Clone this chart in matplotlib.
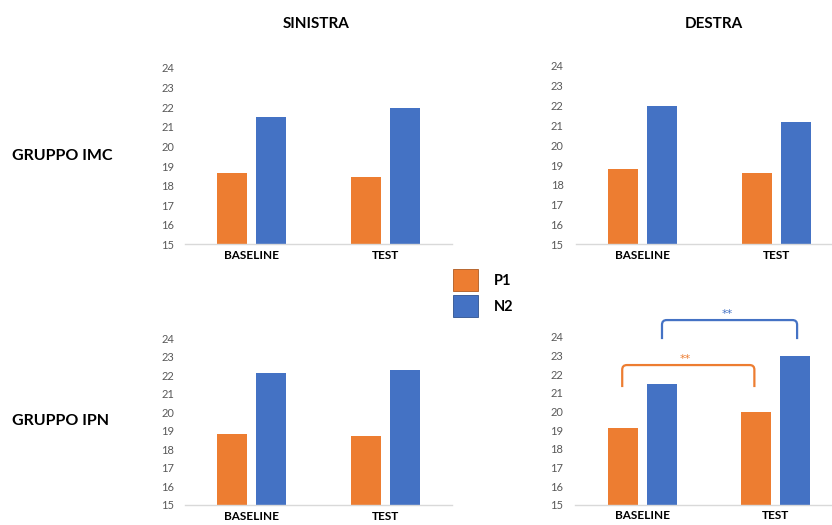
import matplotlib
matplotlib.use("Agg")
import matplotlib.pyplot as plt
from matplotlib.patches import Patch
from matplotlib.path import Path
from matplotlib.patches import PathPatch

plt.rcParams['font.family'] = ['Lato', 'DejaVu Sans']

# data
categories = ['BASELINE', 'TEST']
p1_imc_sx = [18.64, 18.45]
n2_imc_sx = [21.50, 21.95]
p1_imc_dx = [18.80, 18.60]
n2_imc_dx = [22.00, 21.15]
p1_ipn_sx = [18.85, 18.70]
n2_ipn_sx = [22.15, 22.30]
p1_ipn_dx = [19.10, 19.95]
n2_ipn_dx = [21.45, 22.95]
y_ticks = list(range(15, 25))

col_titles = ['SINISTRA', 'DESTRA']
row_titles = ['GRUPPO IMC', 'GRUPPO IPN']
series_names = ['P1', 'N2']

orange = '#ED7D31'
blue = '#4472C4'
tick_grey = '#595959'

fig = plt.figure(figsize=(8.32, 5.25), dpi=100)
fig.patch.set_facecolor('white')

# axes rects in figure fractions (left, bottom, width, height)
rects = {
    (0, 0): [0.2224, 0.5343, 0.3209, 0.3362],
    (0, 1): [0.6923, 0.5347, 0.3209, 0.3396],
    (1, 0): [0.2224, 0.0381, 0.3209, 0.3175],
    (1, 1): [0.6917, 0.0387, 0.3209, 0.3200],
}
panels = {
    (0, 0): (p1_imc_sx, n2_imc_sx),
    (0, 1): (p1_imc_dx, n2_imc_dx),
    (1, 0): (p1_ipn_sx, n2_ipn_sx),
    (1, 1): (p1_ipn_dx, n2_ipn_dx),
}

xs = list(range(len(categories)))
bw = 0.225
off = 0.145
axes = {}
for key, rect in rects.items():
    ax = fig.add_axes(rect)
    p1, n2 = panels[key]
    ax.bar([x - off for x in xs], p1, width=bw, color=orange)
    ax.bar([x + off for x in xs], n2, width=bw, color=blue)
    ax.set_xlim(-0.5, 1.5)
    ax.set_ylim(15, 24)
    ax.set_yticks(y_ticks)
    ax.set_xticks(xs)
    ax.set_xticklabels(categories, fontsize=8.5, fontweight='bold', color='black')
    ax.tick_params(axis='y', length=0, pad=8 if key[1] == 0 else 9,
                   labelsize=8, labelcolor=tick_grey)
    ax.tick_params(axis='x', length=0, pad=4)
    for s in ['top', 'right', 'left']:
        ax.spines[s].set_visible(False)
    ax.spines['bottom'].set_color('#D9D9D9')
    ax.spines['bottom'].set_linewidth(1)
    axes[key] = ax

# column and row titles
fig.text(316 / 832, 1 - 24 / 525, col_titles[0], ha='center', va='center',
         fontsize=11, fontweight='bold')
fig.text(714 / 832, 1 - 24 / 525, col_titles[1], ha='center', va='center',
         fontsize=11, fontweight='bold')
fig.text(12 / 832, 1 - 156 / 525, row_titles[0], ha='left', va='center',
         fontsize=11.5, fontweight='bold')
fig.text(12 / 832, 1 - 421 / 525, row_titles[1], ha='left', va='center',
         fontsize=11.5, fontweight='bold')

# legend
handles = [Patch(facecolor=orange, edgecolor='#AE5A21', linewidth=0.6),
           Patch(facecolor=blue, edgecolor='#2F528F', linewidth=0.6)]
fig.legend(handles, series_names, loc='upper left',
           bbox_to_anchor=(453 / 832, 1 - 269 / 525), frameon=False,
           borderpad=0, borderaxespad=0, handlelength=1.7, handleheight=1.95,
           handletextpad=1.1, labelspacing=0.3,
           prop={'weight': 'bold', 'size': 10.5})

# significance brackets on the IPN / DESTRA panel
ax = axes[(1, 1)]
brackets = [
    # x left, x right, y bottom, y top, colour
    (-0.15, 0.84, 21.3, 22.48, orange),
    (0.148, 1.16, 23.87, 24.89, blue),
]
rx, ry = 0.035, 0.25
for x0, x1, y0, y1, c in brackets:
    verts = [(x0, y0), (x0, y1 - ry), (x0, y1), (x0 + rx, y1),
             (x1 - rx, y1), (x1, y1), (x1, y1 - ry), (x1, y0)]
    codes = [Path.MOVETO, Path.LINETO, Path.CURVE3, Path.CURVE3,
             Path.LINETO, Path.CURVE3, Path.CURVE3, Path.LINETO]
    ax.add_patch(PathPatch(Path(verts, codes), facecolor='none', edgecolor=c,
                           linewidth=1.6, clip_on=False))
    ax.text((x0 + x1) / 2 - 0.02, y1 + 0.05, '**', ha='center', va='bottom',
            color=c, fontsize=8, family='DejaVu Sans', clip_on=False)

fig.savefig('out.png', dpi=100, facecolor='white')
